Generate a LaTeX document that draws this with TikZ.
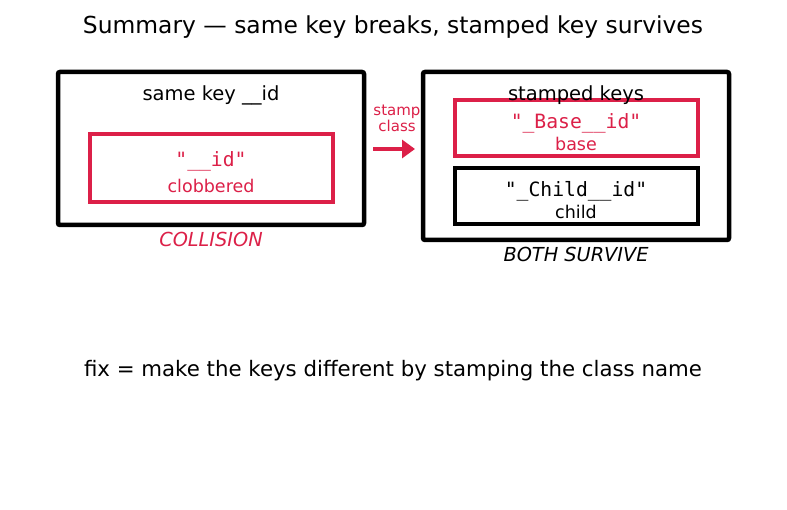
\documentclass[tikz,border=0pt]{standalone}
\usepackage{fontspec}
\setmainfont{DejaVu Sans}
\setmonofont{DejaVu Sans Mono}
\usetikzlibrary{arrows.meta}
\definecolor{crim}{RGB}{220,32,72}
\begin{document}
\begin{tikzpicture}[x=1pt,y=-1pt,
  outer/.style={draw=black,line width=4.5pt,rounded corners=2pt},
  inner/.style={draw=#1,line width=4.5pt},
  lbl/.style={font=\fontsize{19.5}{21}\selectfont,inner sep=0pt},
  sub/.style={font=\fontsize{17.5}{19}\selectfont,inner sep=0pt},
  code/.style={font=\ttfamily\fontsize{19.7}{21}\selectfont,inner sep=0pt}]
\useasboundingbox[fill=white] (0,0) rectangle (787,510);
\node[font=\fontsize{23.4}{25}\selectfont,inner sep=0pt] (title) at (393,27) {Summary — same key breaks, stamped key survives};
% left
\draw[outer] (58,72) rectangle (364,225);
\draw[inner=crim] (90,134) rectangle (333,202);
\node[lbl] (lt) at (211,95) {same key \_\_id};
\node[code,text=crim] (lc) at (211,161) {"\_\_id"};
\node[sub,text=crim] (ls) at (211,186) {clobbered};
\node[lbl,text=crim,font=\itshape\fontsize{19.3}{21}\selectfont] (coll) at (211,239) {COLLISION};
% arrow
\coordinate (a1) at (373,149);
\coordinate (a2) at (415,149);
\draw[crim,line width=4.5pt,-{Triangle[length=13pt,width=18pt]}] (a1) -- (a2);
\node[font=\fontsize{15}{17}\selectfont,text=crim,align=center,inner sep=0pt] (st) at (397,118) {stamp\\[-1pt]class};
% right
\draw[outer] (423,72) rectangle (729,240);
\draw[inner=crim] (455,100) rectangle (698,156);
\draw[inner=black] (455,168) rectangle (698,224);
\node[lbl] (rt) at (576,95) {stamped keys};
\node[code,text=crim] (rb) at (576,123) {"\_Base\_\_id"};
\node[sub,text=crim] (rbs) at (576,144) {base};
\node[code] (rc) at (576,191) {"\_Child\_\_id"};
\node[sub] (rcs) at (576,212) {child};
\node[lbl,font=\itshape\fontsize{19.3}{21}\selectfont] (both) at (576,254) {BOTH SURVIVE};
\node[font=\fontsize{21.3}{23}\selectfont,inner sep=0pt] (fix) at (393,371) {fix = make the keys different by stamping the class name};
\end{tikzpicture}
\end{document}
